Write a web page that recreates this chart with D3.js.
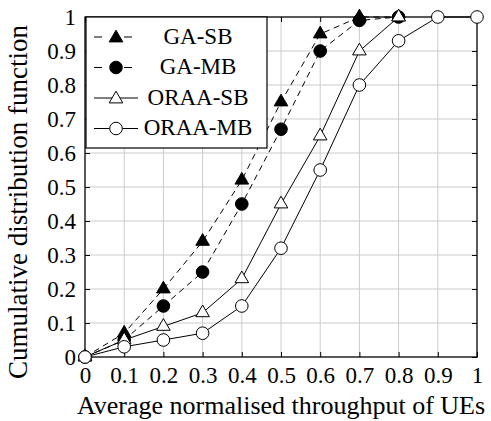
<!DOCTYPE html>
<html>
<head>
<meta charset="utf-8">
<style>
  body { margin: 0; background: #fff; }
  svg text { font-family: "Liberation Serif", "DejaVu Serif", serif; fill: #000; }
  .grid line { stroke: #cccccc; stroke-width: 1px; }
</style>
</head>
<body>
<script src="https://d3js.org/d3.v7.min.js"></script>
<script>
// data
var xs = [0, 0.1, 0.2, 0.3, 0.4, 0.5, 0.6, 0.7, 0.8, 0.9, 1];
var gaSB   = [0, 0.07, 0.20, 0.34, 0.52, 0.75, 0.95, 1.00, 1.00];
var gaMB   = [0, 0.05, 0.15, 0.25, 0.45, 0.67, 0.90, 0.99, 1.00];
var oraaSB = [0, 0.05, 0.09, 0.13, 0.23, 0.45, 0.65, 0.90, 1.00];
var oraaMB = [0, 0.03, 0.05, 0.07, 0.15, 0.32, 0.55, 0.80, 0.93, 1.00, 1.00];
var xTicks = [0, 0.1, 0.2, 0.3, 0.4, 0.5, 0.6, 0.7, 0.8, 0.9, 1];
var yTicks = [0, 0.1, 0.2, 0.3, 0.4, 0.5, 0.6, 0.7, 0.8, 0.9, 1];

var series = [
  { name: "GA-SB",   vals: gaSB,   marker: "tri",    fill: "#000", dash: "6,4.5" },
  { name: "GA-MB",   vals: gaMB,   marker: "circle", fill: "#000", dash: "6,4.5" },
  { name: "ORAA-SB", vals: oraaSB, marker: "tri",    fill: "#fff", dash: null },
  { name: "ORAA-MB", vals: oraaMB, marker: "circle", fill: "#fff", dash: null }
];

var serif = "'Liberation Serif', 'DejaVu Serif', serif";
var W = 491, H = 421;
var m = { top: 17, right: 14, bottom: 64, left: 85 };
var w = W - m.left - m.right, h = H - m.top - m.bottom;

var svg = d3.select("body").append("svg")
    .attr("width", W).attr("height", H);
var g = svg.append("g").attr("transform", "translate(" + m.left + "," + m.top + ")");

var x = d3.scaleLinear().domain([0, 1]).range([0, w]);
var y = d3.scaleLinear().domain([0, 1]).range([h, 0]);

// grid
var grid = g.append("g").classed("grid", true);
grid.selectAll(".gx").data(xTicks.slice(1, -1)).enter().append("line")
    .attr("x1", d => x(d)).attr("x2", d => x(d)).attr("y1", 0).attr("y2", h);
grid.selectAll(".gy").data(yTicks.slice(1, -1)).enter().append("line")
    .attr("y1", d => y(d)).attr("y2", d => y(d)).attr("x1", 0).attr("x2", w);

// axes, ticks pointing inwards
var fmt = d => d === 0 || d === 1 ? d3.format("d")(d) : d3.format(".1f")(d);
function styleAxis(sel) {
  sel.attr("font-family", serif).attr("font-size", 23);
  sel.select(".domain").remove();
  sel.selectAll(".tick line").attr("stroke", "#000").attr("stroke-width", 1);
}
g.append("g").attr("transform", "translate(0," + h + ")")
  .call(d3.axisBottom(x).tickValues(xTicks).tickSize(-5).tickPadding(10).tickFormat(fmt))
  .call(styleAxis);
g.append("g")
  .call(d3.axisLeft(y).tickValues(yTicks).tickSize(-5).tickPadding(9).tickFormat(fmt))
  .call(styleAxis);
g.append("g").attr("transform", "translate(" + w + ",0)")
  .call(d3.axisRight(y).tickValues(yTicks).tickSize(-5).tickFormat(""))
  .call(styleAxis);
g.append("g")
  .call(d3.axisTop(x).tickValues(xTicks).tickSize(-5).tickFormat(""))
  .call(styleAxis);

g.append("rect").attr("width", w).attr("height", h)
  .attr("fill", "none").attr("stroke", "#000").attr("stroke-width", 1.3);

// lines and markers
var line = d3.line().x((d, i) => x(xs[i])).y(d => y(d));
var triPath = "M0,-7.8L6.8,3.9L-6.8,3.9Z";

function drawMarker(sel, s, cx, cy) {
  if (s.marker === "tri") {
    sel.append("path").attr("d", triPath)
      .attr("transform", "translate(" + cx + "," + cy + ")")
      .attr("fill", s.fill).attr("stroke", "#000").attr("stroke-width", 1);
  } else {
    sel.append("circle").attr("cx", cx).attr("cy", cy).attr("r", 6.3)
      .attr("fill", s.fill).attr("stroke", "#000").attr("stroke-width", 1);
  }
}

series.forEach(function (s) {
  g.append("path").attr("d", line(s.vals))
    .attr("fill", "none").attr("stroke", "#000").attr("stroke-width", 1)
    .attr("stroke-dasharray", s.dash);
  var mg = g.append("g");
  s.vals.forEach(function (v, i) { drawMarker(mg, s, x(xs[i]), y(v)); });
});

// legend
var lg = svg.append("g").attr("transform", "translate(86,17)");
lg.append("rect").attr("width", 181).attr("height", 131)
  .attr("fill", "#fff").attr("stroke", "#000").attr("stroke-width", 1.2);
series.forEach(function (s, i) {
  var ly = 20 + i * 30.5;
  lg.append("line").attr("x1", 8).attr("y1", ly).attr("y2", ly)
    .attr("x2", s.dash ? 46 : 52)
    .attr("stroke", "#000").attr("stroke-width", 1)
    .attr("stroke-dasharray", s.dash ? "8,22" : null);
  drawMarker(lg, s, 30, ly + (s.marker === "tri" ? 1 : 0));
  lg.append("text").attr("x", 112).attr("y", ly + 6.5).attr("text-anchor", "middle")
    .attr("font-family", serif).style("font-size", "23px").text(s.name);
});

// axis titles
svg.append("text").attr("x", 281).attr("y", 414).attr("text-anchor", "middle")
  .attr("font-family", serif).style("font-size", "26px")
  .text("Average normalised throughput of UEs");
svg.append("text").attr("transform", "translate(27," + 202 + ") rotate(-90)")
  .attr("text-anchor", "middle").attr("font-family", serif).style("font-size", "27px")
  .text("Cumulative distribution function");
</script>
</body>
</html>
